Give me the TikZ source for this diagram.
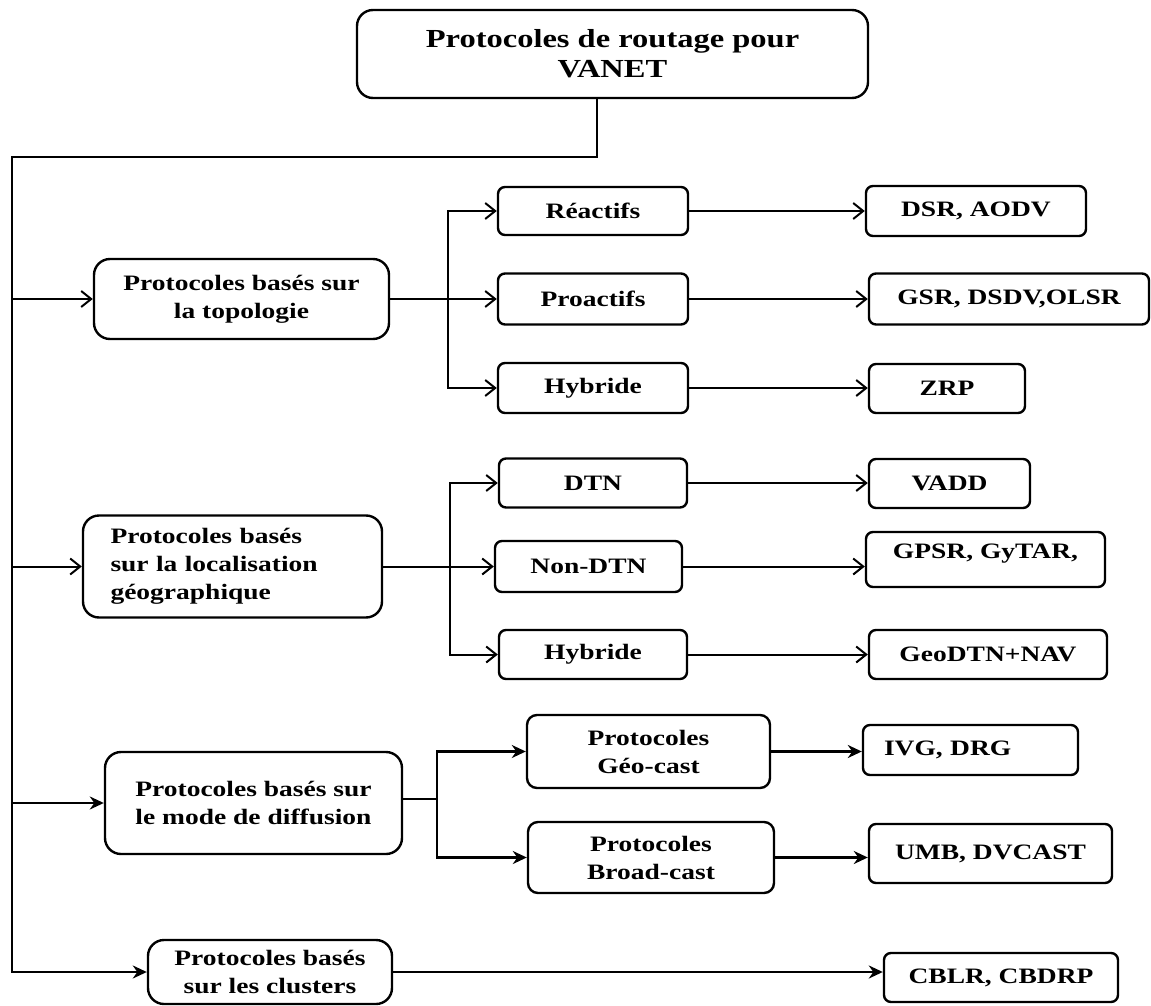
\documentclass[tikz,border=0pt]{standalone}
\usepackage{fontspec}
\setmainfont{Liberation Serif}[FakeStretch=1.25]
\usetikzlibrary{arrows.meta,calc}

\begin{document}
\begin{tikzpicture}
  [
    x=0.5pt, y=-0.5pt,
    wh/.style 2 args =
      {minimum width=#1*0.5pt, minimum height=#2*0.5pt},
    block/.style =
      {draw, line width=1.2pt, rounded corners=8pt, align=center,
       font=\bfseries\fontsize{11}{14}\selectfont},
    leaf/.style =
      {block, rounded corners=3.5pt},
    oarrow/.style =
      {line width=1pt, -{Straight Barb[length=5pt, width=8pt]}},
    farrow/.style =
      {line width=1.3pt, -{Stealth[length=7pt, width=6.5pt]}}
  ]

\useasboundingbox (0,0) rectangle (1151,1006);

\node[block, wh={511}{88}, font=\bfseries\fontsize{13}{15}\selectfont] (root) at (612.5,54) {Protocoles de routage pour\\VANET};

\node[block, wh={295}{80}] (topo) at (241.5,299) {Protocoles basés sur\\la topologie};
\node[block, wh={299}{102}, align=left, text width=122pt] (geo) at (232.5,566.5) {Protocoles basés\\sur la localisation\\géographique};
\node[block, wh={297}{102}] (diff) at (253.5,803) {Protocoles basés sur\\le mode de diffusion};
\node[block, wh={244}{64}] (clus) at (270,972) {Protocoles basés\\sur les clusters};

\node[leaf, wh={190}{48}] (reac) at (593,211) {Réactifs};
\node[leaf, wh={190}{51}] (proa) at (593,299) {Proactifs};
\node[leaf, wh={190}{50}] (hyb1) at (593,388) {Hybride};
\node[leaf, wh={220}{50}] (dsr) at (976,211) {DSR, AODV};
\node[leaf, wh={280}{51}] (gsr) at (1009,299) {GSR, DSDV,OLSR};
\node[leaf, wh={156}{49}] (zrp) at (947,388.5) {ZRP};

\node[leaf, wh={188}{49}] (dtn) at (593,483) {DTN};
\node[leaf, wh={187}{51}] (ndtn) at (588.5,566.5) {Non-DTN};
\node[leaf, wh={188}{49}] (hyb2) at (593,654.5) {Hybride};
\node[leaf, wh={161}{49}] (vadd) at (949.5,483.5) {VADD};
\node[leaf, wh={239}{55}, text height=8pt, text depth=9pt] (gpsr) at (985.5,559.5) {GPSR, GyTAR,};
\node[leaf, wh={238}{49}] (geon) at (988,654.5) {GeoDTN+NAV};

\node[leaf, rounded corners=5pt, wh={243}{73}] (geoc) at (648.5,751.5) {Protocoles\\Géo-cast};
\node[leaf, rounded corners=5pt, wh={246}{71}] (broad) at (651,857.5) {Protocoles\\Broad-cast};
\node[leaf, wh={215}{50}, align=left, text width=86.5pt] (ivg) at (970.5,750) {IVG, DRG};
\node[leaf, wh={243}{59}] (umb) at (990.5,853.5) {UMB, DVCAST};
\node[leaf, wh={234}{49}] (cblr) at (1001,977.5) {CBLR, CBDRP};

\coordinate (drop) at (597,157);
\coordinate (bus) at (12,157);
\coordinate (busend) at (12,973);
\coordinate (fk1) at (448,299);
\coordinate (fk2) at (450,566.5);
\coordinate (fk3) at (437,799);

\draw[line width=1.3pt] (root.south -| drop) -- (drop) -- (bus) -- (busend);

\draw[oarrow] (bus |- topo.west) -- (topo.west);
\draw[oarrow] (bus |- geo.west) -- (geo.west);
\draw[farrow] (bus |- diff.west) -- (diff.west);
\draw[farrow] (bus |- clus.west) -- (clus.west);

\draw[oarrow] (topo.east) -- (proa.west);
\draw[oarrow] (fk1) |- (reac.west);
\draw[oarrow] (fk1) |- (hyb1.west);

\draw[oarrow] (geo.east) -- (ndtn.west);
\draw[oarrow] (fk2) |- (dtn.west);
\draw[oarrow] (fk2) |- (hyb2.west);

\draw[line width=1.3pt] (diff.east |- fk3) -- (fk3);
\draw[farrow] (fk3) |- (geoc.west);
\draw[farrow] (fk3) |- (broad.west);

\foreach \a/\b in {reac/dsr, proa/gsr, hyb1/zrp, dtn/vadd, ndtn/gpsr, hyb2/geon}
  \draw[oarrow] (\a.east) -- (\a.east -| \b.west);
\foreach \a/\b in {geoc/ivg, broad/umb, clus/cblr}
  \draw[farrow] (\a.east) -- (\a.east -| \b.west);

\end{tikzpicture}
\end{document}
